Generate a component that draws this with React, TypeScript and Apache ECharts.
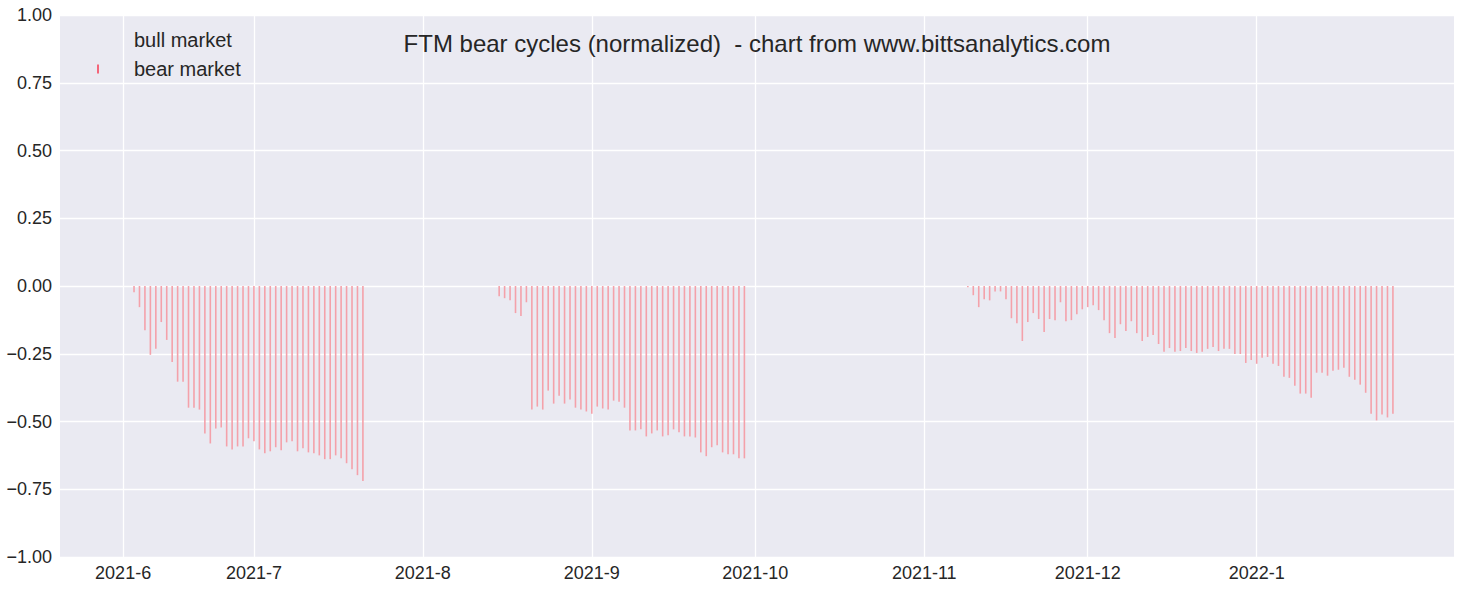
import React, { useEffect, useRef } from "react";
import * as echarts from "echarts";

// ---- data ----
const cycle1Start = "2021-06-09";
const cycle1Values = [
  -0.023, -0.078, -0.163, -0.254, -0.232, -0.133, -0.199, -0.28, -0.353, -0.353,
  -0.449, -0.449, -0.456, -0.544, -0.581, -0.526, -0.522, -0.592, -0.603, -0.592,
  -0.592, -0.562, -0.573, -0.603, -0.617, -0.61, -0.595, -0.606, -0.577, -0.573,
  -0.61, -0.599, -0.614, -0.617, -0.625, -0.639, -0.639, -0.625, -0.636, -0.654,
  -0.676, -0.698, -0.72,
];
const cycle2Start = "2021-08-15";
const cycle2Values = [
  -0.038, -0.045, -0.053, -0.1, -0.111, -0.06, -0.456, -0.445, -0.456, -0.386,
  -0.434, -0.405, -0.434, -0.419, -0.449, -0.456, -0.463, -0.471, -0.445, -0.452,
  -0.456, -0.423, -0.427, -0.449, -0.533, -0.533, -0.529, -0.555, -0.544, -0.533,
  -0.555, -0.551, -0.529, -0.54, -0.555, -0.555, -0.559, -0.614, -0.628, -0.595,
  -0.588, -0.614, -0.621, -0.621, -0.636, -0.636,
];
const cycle3Start = "2021-11-09";
const cycle3Values = [
  -0.005, -0.034, -0.078, -0.049, -0.053, -0.02, -0.02, -0.049, -0.119, -0.137,
  -0.203, -0.133, -0.1, -0.122, -0.17, -0.122, -0.126, -0.06, -0.13, -0.126,
  -0.104, -0.086, -0.078, -0.071, -0.089, -0.126, -0.174, -0.192, -0.141, -0.166,
  -0.13, -0.174, -0.203, -0.188, -0.181, -0.214, -0.243, -0.229, -0.243, -0.24,
  -0.229, -0.24, -0.247, -0.243, -0.232, -0.225, -0.24, -0.232, -0.232, -0.251,
  -0.251, -0.284, -0.273, -0.287, -0.265, -0.262, -0.287, -0.295, -0.335, -0.339,
  -0.368, -0.397, -0.397, -0.412, -0.32, -0.32, -0.331, -0.313, -0.309, -0.302,
  -0.335, -0.346, -0.364, -0.394, -0.471, -0.496, -0.474, -0.485, -0.471,
];
const bullValues: [number, number][] = [];

const tickDates = [
  "2021-06-07", "2021-07-01", "2021-08-01", "2021-09-01",
  "2021-10-01", "2021-11-01", "2021-12-01", "2022-01-01",
];
const tickLabels = [
  "2021-6", "2021-7", "2021-8", "2021-9", "2021-10", "2021-11", "2021-12", "2022-1",
];
const xRangeStart = "2021-05-26T10:00:00Z";
const xRangeEnd = "2022-02-06T05:00:00Z";

const DAY = 86400000;
const toTs = (d: string) => Date.parse(d.length === 10 ? d + "T00:00:00Z" : d);
const daily = (start: string, vals: number[]) =>
  vals.map((v, i) => [toTs(start) + i * DAY, v] as [number, number]);

const bearData = [
  ...daily(cycle1Start, cycle1Values),
  ...daily(cycle2Start, cycle2Values),
  ...daily(cycle3Start, cycle3Values),
];
const tickTs = tickDates.map(toTs);

const FONT = "'Liberation Sans', Arial, sans-serif";
const TXT = "#262626";

export default function App() {
  const ref = useRef<HTMLDivElement>(null);
  useEffect(() => {
    document.body.style.margin = "0";
    const chart = echarts.init(ref.current!, null, { renderer: "svg" });
    chart.setOption({
      animation: false,
      backgroundColor: "#ffffff",
      title: {
        text: "FTM bear cycles (normalized)  - chart from www.bittsanalytics.com",
        left: 757,
        top: 31,
        padding: 0,
        textAlign: "center",
        textStyle: { fontFamily: FONT, fontSize: 24, fontWeight: "normal", color: TXT },
      },
      legend: {
        orient: "vertical",
        left: 97,
        top: 30,
        padding: 0,
        itemGap: 9,
        itemWidth: 2,
        itemHeight: 9,
        icon: "rect",
        textStyle: { fontFamily: FONT, fontSize: 20, color: TXT, padding: [0, 0, 0, 30] },
        data: [
          { name: "bull market", itemStyle: { color: "rgba(0,0,0,0)" } },
          { name: "bear market", itemStyle: { color: "#f4667a" } },
        ],
      },
      grid: {
        left: 60,
        right: 8,
        top: 15,
        bottom: 33,
        show: true,
        backgroundColor: "#eaeaf2",
        borderWidth: 0,
      },
      xAxis: {
        type: "value",
        min: toTs(xRangeStart),
        max: toTs(xRangeEnd),
        axisLine: { show: false },
        axisTick: { show: false, customValues: tickTs },
        axisLabel: {
          customValues: tickTs,
          fontFamily: FONT,
          fontSize: 18,
          color: TXT,
          margin: 7,
          formatter: (v: number) => {
            let best = 0;
            tickTs.forEach((t, i) => {
              if (Math.abs(t - v) < Math.abs(tickTs[best] - v)) best = i;
            });
            return tickLabels[best];
          },
        },
        splitLine: { show: true, lineStyle: { color: "#ffffff", width: 1.3 } },
      },
      yAxis: {
        type: "value",
        min: -1,
        max: 1,
        interval: 0.25,
        axisLine: { show: false },
        axisTick: { show: false },
        axisLabel: {
          fontFamily: FONT,
          fontSize: 18,
          color: TXT,
          margin: 8,
          formatter: (v: number) => (v < 0 ? "\u2212" : "") + Math.abs(v).toFixed(2),
        },
        splitLine: { show: true, lineStyle: { color: "#ffffff", width: 1.3 } },
      },
      series: [
        {
          name: "bull market",
          type: "bar",
          data: bullValues,
          barWidth: 1.6,
          barGap: "-100%",
          itemStyle: { color: "rgba(0,0,0,0)" },
        },
        {
          name: "bear market",
          type: "bar",
          data: bearData,
          barWidth: 1.6,
          barGap: "-100%",
          itemStyle: { color: "#f4a1aa" },
        },
      ],
    });
    return () => chart.dispose();
  }, []);
  return <div ref={ref} style={{ width: 1462, height: 590 }} />;
}
